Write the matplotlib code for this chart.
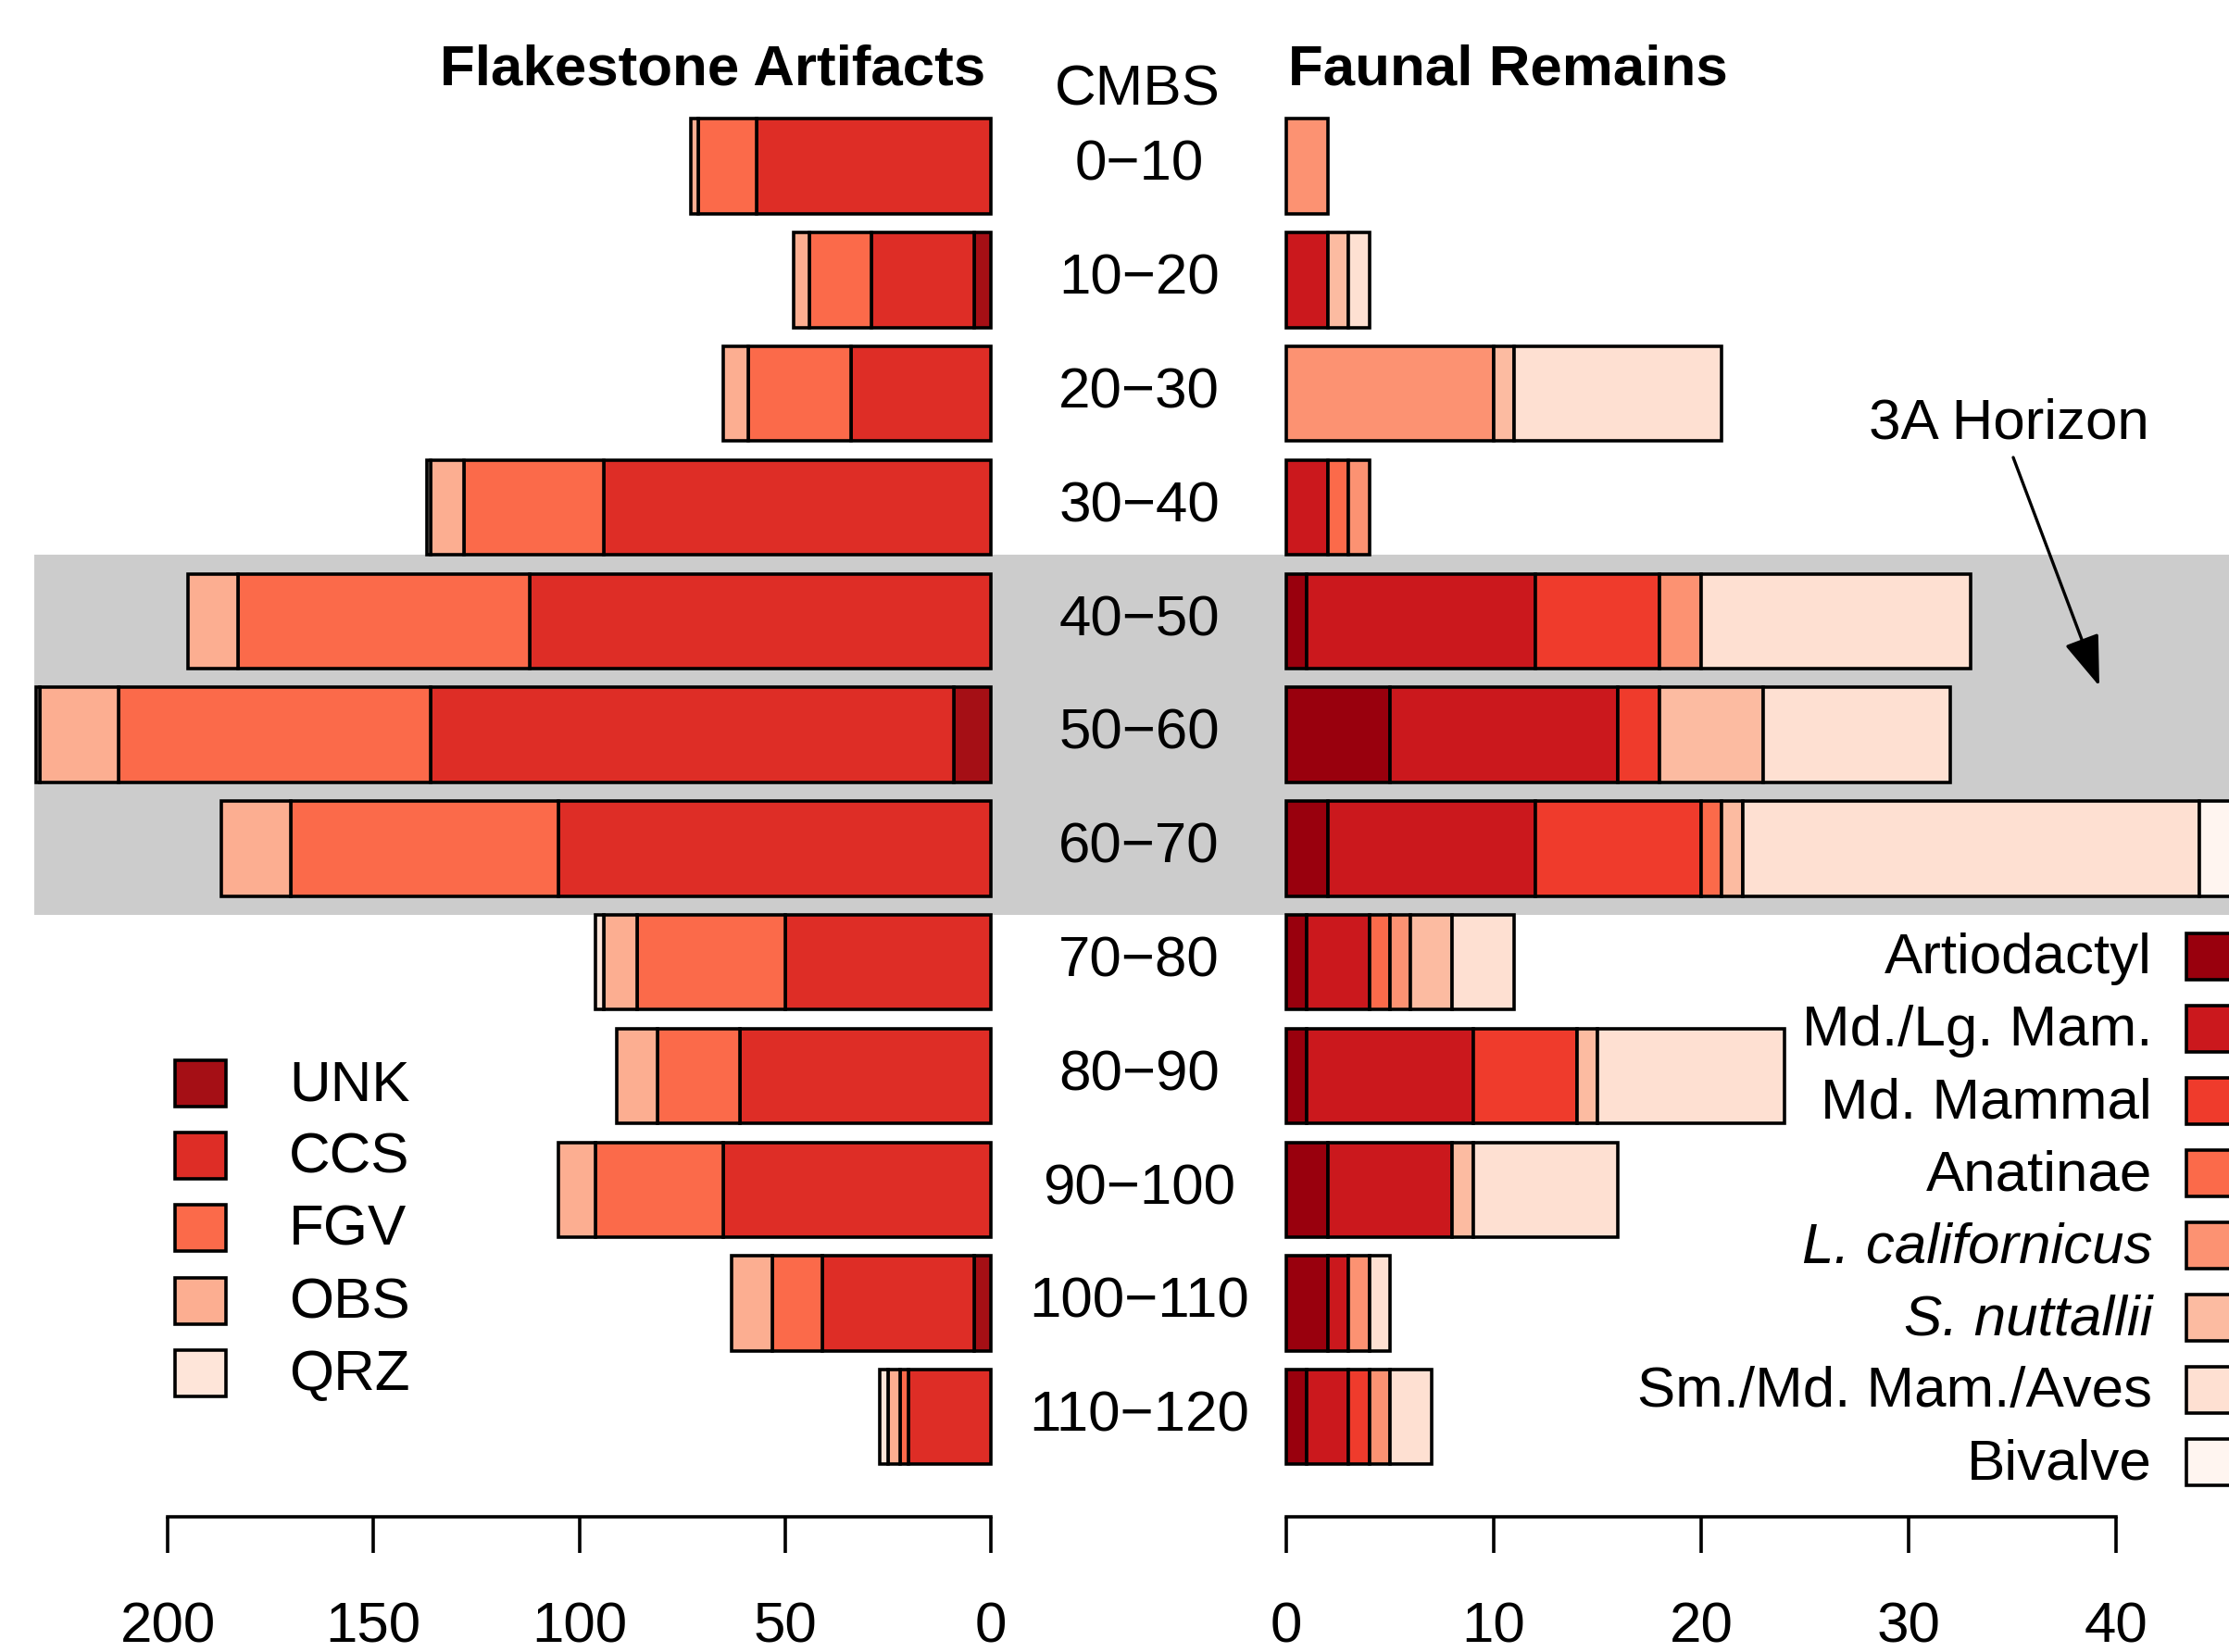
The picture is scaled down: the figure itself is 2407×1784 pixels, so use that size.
import matplotlib
matplotlib.use('Agg')
import matplotlib.pyplot as plt
from matplotlib.patches import Rectangle
import matplotlib.transforms as mtransforms

plt.rcParams['font.family'] = ['Liberation Sans', 'DejaVu Sans']

# ---------------- data ----------------
depths = ['0\u221210', '10\u221220', '20\u221230', '30\u221240', '40\u221250', '50\u221260',
          '60\u221270', '70\u221280', '80\u221290', '90\u2212100', '100\u2212110', '110\u2212120']

# Flakestone artifacts (counts)
flake_labels = ['UNK', 'CCS', 'FGV', 'OBS', 'QRZ']
UNK = [0, 4, 0, 0, 0, 9, 0, 0, 0, 0, 4, 0]
CCS = [57, 25, 34, 94, 112, 127, 105, 50, 61, 65, 37, 20]
FGV = [14, 15, 25, 34, 71, 76, 65, 36, 20, 31, 12, 2]
OBS = [2, 4, 6, 8, 12, 19, 17, 8, 10, 9, 10, 3]
QRZ = [0, 0, 0, 1, 0, 1, 0, 2, 0, 0, 0, 2]
flake_colors = ['#A50F15', '#DE2D26', '#FB6A4A', '#FCAE91', '#FEE5D9']

# Faunal remains (counts)
fauna_labels = ['Artiodactyl', 'Md./Lg. Mam.', 'Md. Mammal', 'Anatinae',
                'L. californicus', 'S. nuttallii', 'Sm./Md. Mam./Aves', 'Bivalve']
fauna_italic = [False, False, False, False, True, True, False, False]
Artiodactyl = [0, 0, 0, 0, 1, 5, 2, 1, 1, 2, 2, 1]
MdLgMam = [0, 2, 0, 2, 11, 11, 10, 3, 8, 6, 1, 2]
MdMammal = [0, 0, 0, 0, 6, 2, 8, 0, 5, 0, 0, 1]
Anatinae = [0, 0, 0, 1, 0, 0, 1, 1, 0, 0, 0, 0]
Lcalifornicus = [2, 0, 10, 1, 2, 0, 0, 1, 0, 0, 1, 1]
Snuttallii = [0, 1, 1, 0, 0, 5, 1, 2, 1, 1, 0, 0]
SmMdMamAves = [0, 1, 10, 0, 13, 9, 22, 3, 9, 7, 1, 2]
Bivalve = [0, 0, 0, 0, 0, 0, 2, 0, 0, 0, 0, 0]
fauna_colors = ['#99000D', '#CB181D', '#EF3B2C', '#FB6A4A',
                '#FC9272', '#FCBBA1', '#FEE0D2', '#FFF5F0']

left_ticks = [200, 150, 100, 50, 0]
right_ticks = [0, 10, 20, 30, 40]

# ---------------- layout ----------------
W, H = 2407, 1784
fig = plt.figure(figsize=(W / 100, H / 100), dpi=100)

def fx(px):
    return px / W

def fy(py):
    return 1 - py / H

FS = 44.6
LW = 2.6

axL = fig.add_axes([fx(37), fy(1600), fx(1070) - fx(37), fy(100) - fy(1600)])
axR = fig.add_axes([fx(1389), fy(1600), fx(2285) - fx(1389), fy(100) - fy(1600)])

ypos = [0.7 + 1.2 * i for i in range(len(depths))]

def stacked(ax, series, colors):
    cum = [0.0] * len(depths)
    for vals, col in zip(series, colors):
        for i, v in enumerate(vals):
            if v > 0:
                ax.barh(ypos[i], v, left=cum[i], height=1.0, color=col,
                        edgecolor='black', linewidth=LW, clip_on=False, zorder=2)
                cum[i] += v

stacked(axL, [UNK, CCS, FGV, OBS, QRZ], flake_colors)
stacked(axR, [Artiodactyl, MdLgMam, MdMammal, Anatinae, Lcalifornicus,
              Snuttallii, SmMdMamAves, Bivalve], fauna_colors)

axL.set_xlim(232.4, 0)
axR.set_xlim(0, 40)
for ax, ticks, bounds in [(axL, left_ticks, (0, 200)), (axR, right_ticks, (0, 40))]:
    ax.set_ylim(14.581, -0.078)
    ax.set_facecolor('none')
    for s in ['top', 'left', 'right']:
        ax.spines[s].set_visible(False)
    ax.spines['bottom'].set_position(('outward', 27.4))
    ax.spines['bottom'].set_bounds(*bounds)
    ax.spines['bottom'].set_linewidth(2.6)
    ax.set_xticks(ticks)
    ax.set_xticklabels([str(t) for t in ticks])
    ax.set_yticks([])
    ax.tick_params(axis='x', length=28, width=2.6, labelsize=FS, pad=38)

# grey band for 3A horizon (rows 40-50 to 60-70)
bt = mtransforms.blended_transform_factory(fig.transFigure, axL.transData)
band = Rectangle((fx(37), ypos[3] + 0.5), 1.0, (ypos[7] - 0.5) - (ypos[3] + 0.5),
                 transform=bt, facecolor='#CCCCCC', edgecolor='none', zorder=-1)
fig.patches.append(band)

# depth labels
for i, d in enumerate(depths):
    fig.text(fx(1230), 0, d, transform=bt, ha='center', va='baseline', fontsize=FS) \
        .set_y(ypos[i] + 0.15)

# titles
fig.text(fx(1064), fy(92), 'Flakestone Artifacts', ha='right', va='baseline',
         fontsize=FS, fontweight='bold')
fig.text(fx(1391), fy(92), 'Faunal Remains', ha='left', va='baseline',
         fontsize=FS, fontweight='bold')
fig.text(fx(1228), fy(113), 'CMBS', ha='center', va='baseline', fontsize=FS)

# left legend
for k, (lab, col) in enumerate(zip(flake_labels, flake_colors)):
    cy = 1170 + 78.2 * k
    fig.patches.append(Rectangle((fx(189), fy(cy + 25)), fx(55), 50 / H,
                                 transform=fig.transFigure, facecolor=col,
                                 edgecolor='black', linewidth=LW))
    fig.text(fx(312), fy(cy + 3), lab, ha='left', va='center', fontsize=FS)

# right legend
for k, (lab, col, it) in enumerate(zip(fauna_labels, fauna_colors, fauna_italic)):
    cy = 1033 + 78.0 * k
    fig.patches.append(Rectangle((fx(2361), fy(cy + 25)), fx(55), 50 / H,
                                 transform=fig.transFigure, facecolor=col,
                                 edgecolor='black', linewidth=LW))
    fig.text(fx(2324), fy(cy + 3), lab, ha='right', va='center', fontsize=FS,
             style='italic' if it else 'normal')

# annotation
fig.text(fx(2169), fy(458), '3A Horizon', ha='center', va='center', fontsize=FS)
fig.patches.append(matplotlib.patches.FancyArrowPatch(
    (fx(2174), fy(494)), (fx(2267), fy(741)), transform=fig.transFigure,
    arrowstyle='-|>,head_length=3.4,head_width=1.2', mutation_scale=10,
    color='black', linewidth=2.4, shrinkA=0, shrinkB=0))

fig.savefig('out.png', dpi=100)
